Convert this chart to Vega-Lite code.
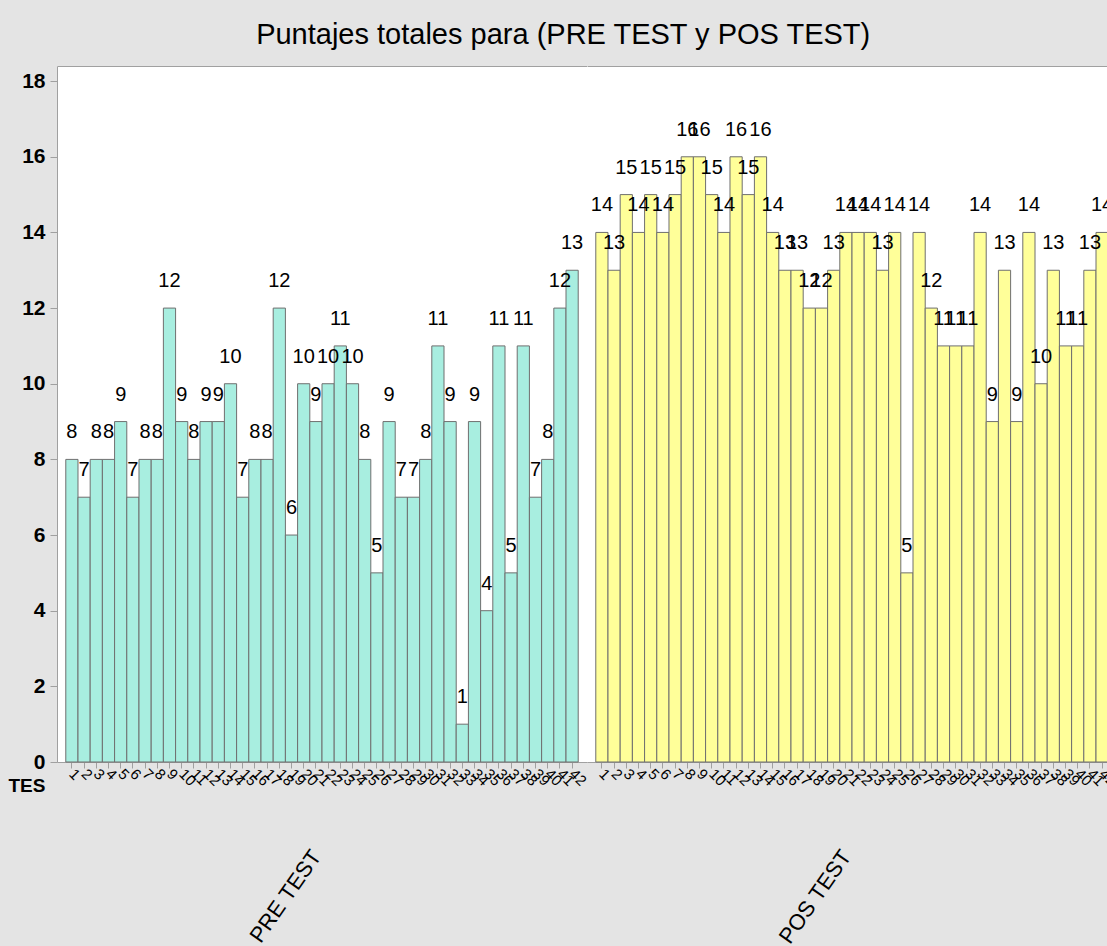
{
  "$schema": "https://vega.github.io/schema/vega-lite/v6.json",
  "background": "#e4e4e4",
  "padding": {"left": 8, "top": 21, "right": 0, "bottom": 0},
  "autosize": {"type": "pad"},
  "config": {
    "view": {"fill": "white", "stroke": null},
    "font": "Liberation Sans",
    "concat": {"spacing": 0}
  },
  "title": {
    "text": "Puntajes totales para (PRE TEST y POS TEST)",
    "font": "Liberation Sans",
    "fontSize": 29,
    "fontWeight": "normal",
    "color": "black",
    "anchor": "middle",
    "offset": 16
  },
  "datasets": {
    "scores": [
      {"grupo": "PRE TEST", "n": 1, "puntaje": 8},
      {"grupo": "PRE TEST", "n": 2, "puntaje": 7},
      {"grupo": "PRE TEST", "n": 3, "puntaje": 8},
      {"grupo": "PRE TEST", "n": 4, "puntaje": 8},
      {"grupo": "PRE TEST", "n": 5, "puntaje": 9},
      {"grupo": "PRE TEST", "n": 6, "puntaje": 7},
      {"grupo": "PRE TEST", "n": 7, "puntaje": 8},
      {"grupo": "PRE TEST", "n": 8, "puntaje": 8},
      {"grupo": "PRE TEST", "n": 9, "puntaje": 12},
      {"grupo": "PRE TEST", "n": 10, "puntaje": 9},
      {"grupo": "PRE TEST", "n": 11, "puntaje": 8},
      {"grupo": "PRE TEST", "n": 12, "puntaje": 9},
      {"grupo": "PRE TEST", "n": 13, "puntaje": 9},
      {"grupo": "PRE TEST", "n": 14, "puntaje": 10},
      {"grupo": "PRE TEST", "n": 15, "puntaje": 7},
      {"grupo": "PRE TEST", "n": 16, "puntaje": 8},
      {"grupo": "PRE TEST", "n": 17, "puntaje": 8},
      {"grupo": "PRE TEST", "n": 18, "puntaje": 12},
      {"grupo": "PRE TEST", "n": 19, "puntaje": 6},
      {"grupo": "PRE TEST", "n": 20, "puntaje": 10},
      {"grupo": "PRE TEST", "n": 21, "puntaje": 9},
      {"grupo": "PRE TEST", "n": 22, "puntaje": 10},
      {"grupo": "PRE TEST", "n": 23, "puntaje": 11},
      {"grupo": "PRE TEST", "n": 24, "puntaje": 10},
      {"grupo": "PRE TEST", "n": 25, "puntaje": 8},
      {"grupo": "PRE TEST", "n": 26, "puntaje": 5},
      {"grupo": "PRE TEST", "n": 27, "puntaje": 9},
      {"grupo": "PRE TEST", "n": 28, "puntaje": 7},
      {"grupo": "PRE TEST", "n": 29, "puntaje": 7},
      {"grupo": "PRE TEST", "n": 30, "puntaje": 8},
      {"grupo": "PRE TEST", "n": 31, "puntaje": 11},
      {"grupo": "PRE TEST", "n": 32, "puntaje": 9},
      {"grupo": "PRE TEST", "n": 33, "puntaje": 1},
      {"grupo": "PRE TEST", "n": 34, "puntaje": 9},
      {"grupo": "PRE TEST", "n": 35, "puntaje": 4},
      {"grupo": "PRE TEST", "n": 36, "puntaje": 11},
      {"grupo": "PRE TEST", "n": 37, "puntaje": 5},
      {"grupo": "PRE TEST", "n": 38, "puntaje": 11},
      {"grupo": "PRE TEST", "n": 39, "puntaje": 7},
      {"grupo": "PRE TEST", "n": 40, "puntaje": 8},
      {"grupo": "PRE TEST", "n": 41, "puntaje": 12},
      {"grupo": "PRE TEST", "n": 42, "puntaje": 13},
      {"grupo": "POS TEST", "n": 1, "puntaje": 14},
      {"grupo": "POS TEST", "n": 2, "puntaje": 13},
      {"grupo": "POS TEST", "n": 3, "puntaje": 15},
      {"grupo": "POS TEST", "n": 4, "puntaje": 14},
      {"grupo": "POS TEST", "n": 5, "puntaje": 15},
      {"grupo": "POS TEST", "n": 6, "puntaje": 14},
      {"grupo": "POS TEST", "n": 7, "puntaje": 15},
      {"grupo": "POS TEST", "n": 8, "puntaje": 16},
      {"grupo": "POS TEST", "n": 9, "puntaje": 16},
      {"grupo": "POS TEST", "n": 10, "puntaje": 15},
      {"grupo": "POS TEST", "n": 11, "puntaje": 14},
      {"grupo": "POS TEST", "n": 12, "puntaje": 16},
      {"grupo": "POS TEST", "n": 13, "puntaje": 15},
      {"grupo": "POS TEST", "n": 14, "puntaje": 16},
      {"grupo": "POS TEST", "n": 15, "puntaje": 14},
      {"grupo": "POS TEST", "n": 16, "puntaje": 13},
      {"grupo": "POS TEST", "n": 17, "puntaje": 13},
      {"grupo": "POS TEST", "n": 18, "puntaje": 12},
      {"grupo": "POS TEST", "n": 19, "puntaje": 12},
      {"grupo": "POS TEST", "n": 20, "puntaje": 13},
      {"grupo": "POS TEST", "n": 21, "puntaje": 14},
      {"grupo": "POS TEST", "n": 22, "puntaje": 14},
      {"grupo": "POS TEST", "n": 23, "puntaje": 14},
      {"grupo": "POS TEST", "n": 24, "puntaje": 13},
      {"grupo": "POS TEST", "n": 25, "puntaje": 14},
      {"grupo": "POS TEST", "n": 26, "puntaje": 5},
      {"grupo": "POS TEST", "n": 27, "puntaje": 14},
      {"grupo": "POS TEST", "n": 28, "puntaje": 12},
      {"grupo": "POS TEST", "n": 29, "puntaje": 11},
      {"grupo": "POS TEST", "n": 30, "puntaje": 11},
      {"grupo": "POS TEST", "n": 31, "puntaje": 11},
      {"grupo": "POS TEST", "n": 32, "puntaje": 14},
      {"grupo": "POS TEST", "n": 33, "puntaje": 9},
      {"grupo": "POS TEST", "n": 34, "puntaje": 13},
      {"grupo": "POS TEST", "n": 35, "puntaje": 9},
      {"grupo": "POS TEST", "n": 36, "puntaje": 14},
      {"grupo": "POS TEST", "n": 37, "puntaje": 10},
      {"grupo": "POS TEST", "n": 38, "puntaje": 13},
      {"grupo": "POS TEST", "n": 39, "puntaje": 11},
      {"grupo": "POS TEST", "n": 40, "puntaje": 11},
      {"grupo": "POS TEST", "n": 41, "puntaje": 13},
      {"grupo": "POS TEST", "n": 42, "puntaje": 14}
    ]
  },
  "data": {"name": "scores"},
  "bounds": "flush",
  "spacing": 0,
  "hconcat": [
    {
      "width": 530,
      "height": 696,
      "transform": [{"filter": "datum.grupo === 'PRE TEST'"}],
      "layer": [
        {
          "mark": {"type": "bar", "fill": "#a8eee0", "stroke": "#6f6f6f", "strokeWidth": 1},
          "encoding": {
            "x": {
              "field": "n", "type": "ordinal",
              "scale": {"paddingInner": 0, "paddingOuter": 0.72},
              "axis": {
                "orient": "bottom",
                "labelAngle": 45, "labelAlign": "left", "labelBaseline": "middle",
                "labelFont": "Liberation Sans", "labelFontSize": 15, "labelColor": "black",
                "labelPadding": 3, "labelOverlap": false, "labelFlush": false,
                "tickSize": 6, "tickColor": "#a0a0a0", "domainColor": "#a0a0a0",
                "title": "PRE TEST", "titleAngle": -55, "titleAlign": "right", "titleBaseline": "middle",
                "titleX": 259, "titleY": 90,
                "titleFont": "Liberation Sans", "titleFontSize": 22, "titleFontWeight": "normal", "titleColor": "black"
              }
            },
            "y": {
              "field": "puntaje", "type": "quantitative",
              "scale": {"domain": [0, 18.4], "nice": false},
              "axis": {
                "values": [0, 2, 4, 6, 8, 10, 12, 14, 16, 18],
                "grid": false,
                "labelFont": "Liberation Sans", "labelFontSize": 21, "labelFontWeight": "bold", "labelColor": "black",
                "labelPadding": 5,
                "tickSize": 7, "tickColor": "#a0a0a0", "domainColor": "#a0a0a0",
                "title": "TES", "titleAngle": 0, "titleAlign": "left", "titleBaseline": "middle",
                "titleX": -49, "titleY": 719,
                "titleFont": "Liberation Sans", "titleFontSize": 19, "titleFontWeight": "bold", "titleColor": "black"
              }
            }
          }
        },
        {
          "mark": {"type": "text", "baseline": "alphabetic", "dy": -21, "fontSize": 20, "font": "Liberation Sans", "color": "black"},
          "encoding": {
            "x": {
              "field": "n", "type": "ordinal",
              "axis": {"orient": "top", "labels": false, "ticks": false, "title": null, "domainColor": "#a0a0a0"}
            },
            "y": {"field": "puntaje", "type": "quantitative"},
            "text": {"field": "puntaje", "type": "quantitative"}
          }
        }
      ],
      "resolve": {"axis": {"x": "independent"}}
    },
    {
      "width": 530,
      "height": 696,
      "transform": [{"filter": "datum.grupo === 'POS TEST'"}],
      "layer": [
        {
          "mark": {"type": "bar", "fill": "#ffff99", "stroke": "#6f6f6f", "strokeWidth": 1},
          "encoding": {
            "x": {
              "field": "n", "type": "ordinal",
              "scale": {"paddingInner": 0, "paddingOuter": 0.72},
              "axis": {
                "orient": "bottom",
                "labelAngle": 45, "labelAlign": "left", "labelBaseline": "middle",
                "labelFont": "Liberation Sans", "labelFontSize": 15, "labelColor": "black",
                "labelPadding": 3, "labelOverlap": false, "labelFlush": false,
                "tickSize": 6, "tickColor": "#a0a0a0", "domainColor": "#a0a0a0",
                "title": "POS TEST", "titleAngle": -55, "titleAlign": "right", "titleBaseline": "middle",
                "titleX": 259, "titleY": 90,
                "titleFont": "Liberation Sans", "titleFontSize": 22, "titleFontWeight": "normal", "titleColor": "black"
              }
            },
            "y": {
              "field": "puntaje", "type": "quantitative",
              "scale": {"domain": [0, 18.4], "nice": false},
              "axis": null
            }
          }
        },
        {
          "mark": {"type": "text", "baseline": "alphabetic", "dy": -21, "fontSize": 20, "font": "Liberation Sans", "color": "black"},
          "encoding": {
            "x": {
              "field": "n", "type": "ordinal",
              "axis": {"orient": "top", "labels": false, "ticks": false, "title": null, "domainColor": "#a0a0a0"}
            },
            "y": {"field": "puntaje", "type": "quantitative", "axis": null},
            "text": {"field": "puntaje", "type": "quantitative"}
          }
        }
      ],
      "resolve": {"axis": {"x": "independent"}}
    }
  ]
}
